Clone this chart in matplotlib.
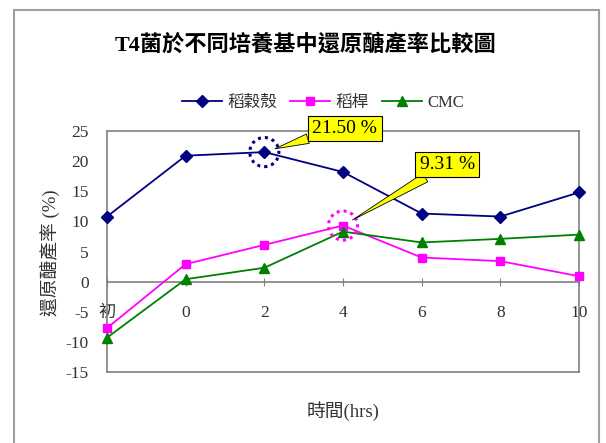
import numpy as np
import matplotlib
matplotlib.use("Agg")
import matplotlib.pyplot as plt
from matplotlib.patches import Rectangle

plt.rcParams['font.family'] = ['Liberation Serif', 'Noto Sans CJK TC']
plt.rcParams['axes.unicode_minus'] = False

# 還原醣產率 (%)
categories = ['初', '0', '2', '4', '6', '8', '10']
rice_husk = [10.8, 20.9, 21.50, 18.2, 11.3, 10.8, 14.8]
rice_straw = [-7.7, 2.9, 6.1, 9.31, 4.0, 3.4, 0.9]
cmc = [-9.3, 0.4, 2.3, 8.3, 6.5, 7.1, 7.8]
series_names = ['稻穀殼', '稻桿', 'CMC']

x = np.arange(len(categories))

fig = plt.figure(figsize=(6.06, 4.43), dpi=100)
ax = fig.add_axes([107 / 606, 1 - 372 / 443, 472 / 606, 241 / 443])

l1, = ax.plot(x, rice_husk, color='#000080', marker='D', markersize=6, lw=1.3,
              label=series_names[0], clip_on=False, zorder=3)
l2, = ax.plot(x, rice_straw, color='#FF00FF', marker='s', markersize=6, lw=1.3,
              label=series_names[1], clip_on=False, zorder=3)
l3, = ax.plot(x, cmc, color='#008000', marker='^', markersize=7, lw=1.3,
              label=series_names[2], clip_on=False, zorder=3)

ax.set_xlim(0, len(categories) - 1)
ax.set_ylim(-15, 25)
ax.set_yticks(np.arange(-15, 26, 5))
ax.tick_params(axis='y', length=0, pad=13, labelsize=12.5, labelcolor='#333333')
ax.set_xticks([])
for s in ax.spines.values():
    s.set_color('#808080')
    s.set_linewidth(1.2)

# category axis sits on y = 0
sec = ax.secondary_xaxis(15 / 40)
sec.set_xticks(x)
sec.set_xticklabels(categories)
sec.spines['bottom'].set_color('#808080')
sec.spines['bottom'].set_linewidth(1.2)
sec.tick_params(direction='inout', length=6, color='#808080', pad=14,
                labelsize=12.5, labelcolor='#333333')

# highlighted peaks
peak_husk = int(np.argmax(rice_husk))
peak_straw = int(np.argmax(rice_straw))
ax.scatter([x[peak_husk]], [rice_husk[peak_husk]], s=440, facecolors='none',
           edgecolors='#000080', linewidths=2.2, linestyles=(0, (1, 1.3)), zorder=4,
           clip_on=False)
ax.scatter([x[peak_straw]], [rice_straw[peak_straw]], s=440, facecolors='none',
           edgecolors='#FF00FF', linewidths=2.2, linestyles=(0, (1, 1.3)), zorder=4,
           clip_on=False)

box = dict(boxstyle='square,pad=0.22', fc='#FFFF00', ec='black', lw=0.8)
ax.annotate(f'{rice_husk[peak_husk]:.2f} %', xy=(x[peak_husk], rice_husk[peak_husk]),
            xytext=(58, 17), textcoords='offset points', ha='center', va='center',
            fontsize=14, bbox=box, zorder=5, annotation_clip=False,
            arrowprops=dict(arrowstyle='wedge,tail_width=0.5', fc='#FFFF00',
                            ec='black', lw=0.6, shrinkA=0, shrinkB=8,
                            relpos=(0.1, 0.1)))
ax.annotate(f'{rice_straw[peak_straw]:.2f} %', xy=(x[peak_straw], rice_straw[peak_straw]),
            xytext=(75, 44), textcoords='offset points', ha='center', va='center',
            fontsize=14, bbox=box, zorder=5, annotation_clip=False,
            arrowprops=dict(arrowstyle='wedge,tail_width=0.5', fc='#FFFF00',
                            ec='black', lw=0.6, shrinkA=0, shrinkB=8,
                            relpos=(0.25, 0.0)))

fig.text(306 / 606, 1 - 45 / 443, 'T4菌於不同培養基中還原醣產率比較圖', ha='center',
         va='center', fontsize=16, fontweight='bold', color='black')
fig.text(50 / 606, 1 - 253 / 443, '還原醣產率 (%)', ha='center', va='center',
         rotation=90, fontsize=13.5, color='#333333')
fig.text(343 / 606, 1 - 411 / 443, '時間(hrs)', ha='center', va='center',
         fontsize=13.5, color='#333333')

fig.legend(handles=[l1, l2, l3], loc='center', bbox_to_anchor=(323 / 606, 1 - 103 / 443),
           ncol=3, frameon=False, fontsize=12, handlelength=2.4, handletextpad=0.3,
           columnspacing=0.8, labelcolor='#333333')

# chart border
fig.patches.append(Rectangle((14 / 606, -0.1), 585 / 606, 1.1 - 10 / 443,
                             transform=fig.transFigure, fill=False, ec='#A0A0A0', lw=1.5))

fig.savefig('out.png', dpi=100)
